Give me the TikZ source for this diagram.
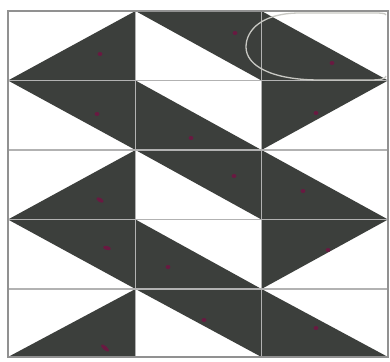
\documentclass[tikz,border=0pt]{standalone}
\definecolor{dark}{RGB}{60,63,60}
\definecolor{gridc}{RGB}{178,178,178}
\definecolor{framec}{RGB}{145,145,145}
\definecolor{dotc}{RGB}{105,25,65}
\definecolor{ringc}{RGB}{200,200,195}
\begin{document}
\begin{tikzpicture}[x=1pt,y=-1pt,
  tri/.style={fill=dark},
  gridline/.style={draw=gridc,line width=1.6pt},
  frameline/.style={draw=framec,line width=2.8pt},
  ring/.style={draw=ringc,line width=1.3pt},
  spot/.style={fill=dotc}]
\fill[white] (0,0) rectangle (390,361);
\useasboundingbox (0,0) rectangle (390,361);
\def\xA{8}\def\xB{135.5}\def\xC{261.5}\def\xD{388}
% odd rows (1,3,5)
\foreach \t/\b in {11/80.5,150/219.5,289/357}{
  \fill[tri] (\xB,\t) -- (\xA,\b) -- (\xB,\b) -- cycle;
  \fill[tri] (\xB,\t) -- (\xC,\t) -- (\xC,\b) -- cycle;
  \fill[tri] (\xC,\t) -- (\xC,\b) -- (\xD,\b) -- cycle;
}
% even rows (2,4)
\foreach \t/\b in {80.5/150,219.5/289}{
  \fill[tri] (\xA,\t) -- (\xB,\t) -- (\xB,\b) -- cycle;
  \fill[tri] (\xB,\t) -- (\xB,\b) -- (\xC,\b) -- cycle;
  \fill[tri] (\xC,\t) -- (\xD,\t) -- (\xC,\b) -- cycle;
}
% grid
\foreach \y in {80.5,150,219.5,289}{
  \draw[gridline] (\xA,\y) -- (\xD,\y);
}
\foreach \x in {\xB,\xC}{
  \draw[gridline] (\x,11) -- (\x,357);
}
\draw[frameline] (\xA,11) rectangle (\xD,357);
% ring
\draw[ring] (386,15) .. controls (386,13) and (380,13) .. (370,13) -- (300,13)
  .. controls (262,13) and (246,30) .. (246,47)
  .. controls (246,66) and (272,80) .. (320,80) -- (370,80)
  .. controls (380,80) and (386,79) .. (386,76);
% spots
\foreach \p in {(100,54),(235,33),(332,63),(97,114),(191,138),(316,113),(234,176),
  (303,191),(168,267),(328,250),(204,320),(316,328)}{
  \fill[spot] \p ellipse (2.4pt and 2pt);
}
\fill[spot,rotate around={-30:(100,200)}] (100,200) ellipse (4pt and 2pt);
\fill[spot,rotate around={-15:(107,248)}] (107,248) ellipse (4pt and 2pt);
\fill[spot,rotate around={-40:(105,348)}] (105,348) ellipse (5pt and 2pt);
\end{tikzpicture}
\end{document}
